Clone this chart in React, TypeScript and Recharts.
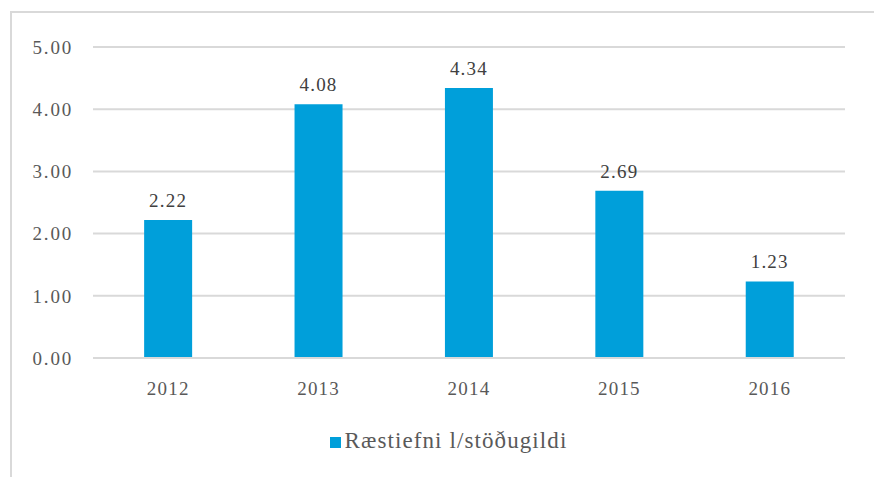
import React from 'react'
import { BarChart, Bar, XAxis, YAxis, CartesianGrid, Legend, LabelList } from 'recharts'

const years = ['2012', '2013', '2014', '2015', '2016']
const values = [2.22, 4.08, 4.34, 2.69, 1.23]
const yTicks = [0, 1, 2, 3, 4, 5]

const SERIES = 'Ræstiefni l/stöðugildi'
const BLUE = '#009fda'
const GRID = '#d9d9d9'
const TEXT = '#595959'
const FONT = '"Liberation Serif", serif'

const data = years.map((year, i) => ({ year, value: values[i] }))

const App: React.FC = () => {
  return (
    <div style={{ position: 'absolute', left: 0, top: 0, width: 874, height: 477, background: '#fff', overflow: 'hidden', fontFamily: FONT }}>
      <div
        style={{
          position: 'absolute',
          left: 10,
          top: 11,
          width: 900,
          height: 500,
          borderLeft: `2px solid ${GRID}`,
          borderTop: `2px solid ${GRID}`,
        }}
      />
      <div style={{ position: 'absolute', left: 0, top: 0 }}>
        <BarChart
          width={874}
          height={477}
          data={data}
          margin={{ top: 47, right: 29, left: 0, bottom: 20 }}
          barCategoryGap="34%"
        >
          <CartesianGrid vertical={false} stroke={GRID} strokeWidth={2} />
          <XAxis
            dataKey="year"
            tickLine={false}
            axisLine={{ stroke: GRID, strokeWidth: 2 }}
            tick={{ fill: TEXT, fontSize: 19, fontFamily: FONT, letterSpacing: 1.2 }}
            tickMargin={18}
            height={40}
          />
          <YAxis
            width={93}
            domain={[0, 5]}
            ticks={yTicks}
            tickFormatter={(v: number) => v.toFixed(2)}
            tickLine={false}
            axisLine={false}
            tick={{ fill: TEXT, fontSize: 19, fontFamily: FONT, letterSpacing: 1.8 }}
            tickMargin={14}
          />
          <Legend
            verticalAlign="bottom"
            iconType="square"
            iconSize={11}
            height={59}
            wrapperStyle={{ fontFamily: FONT, fontSize: 23, color: TEXT, bottom: 'auto', top: 428, left: 31, letterSpacing: 1.1 }}
            formatter={(v: string) => <span style={{ color: TEXT }}>{v}</span>}
          />
          <Bar dataKey="value" name={SERIES} fill={BLUE} isAnimationActive={false}>
            <LabelList
              dataKey="value"
              position="top"
              offset={13}
              formatter={(v: number) => v.toFixed(2)}
              style={{ fill: '#404040', fontSize: 19, fontFamily: FONT, letterSpacing: 1.2 }}
            />
          </Bar>
        </BarChart>
      </div>
    </div>
  )
}

export default App
